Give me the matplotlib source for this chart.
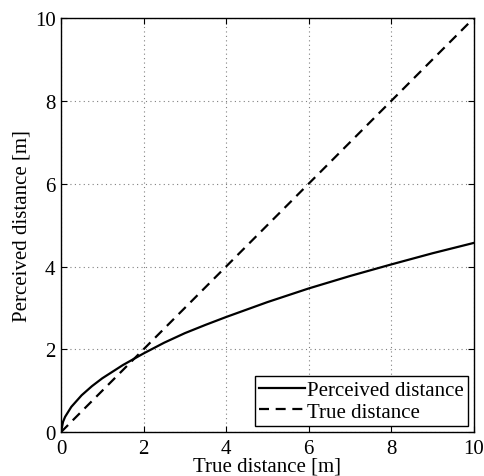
import numpy as np
import matplotlib
matplotlib.use('Agg')
from matplotlib import pyplot as plt

#### data
true_dist = [0, 0.05, 0.1, 0.25, 0.5, 0.75, 1, 1.5, 2, 2.5, 3, 3.5, 4, 5, 6, 7, 8, 9, 10]
perceived = [0, 0.25, 0.37, 0.61, 0.89, 1.11, 1.30, 1.62, 1.90, 2.16, 2.39, 2.59, 2.78,
             3.14, 3.47, 3.77, 4.05, 4.32, 4.57]
line_x = [0, 10]
line_y = [0, 10]
ticks = [0, 2, 4, 6, 8, 10]

plt.rcParams['font.family'] = 'Liberation Serif'
plt.rcParams['font.size'] = 15

fig = plt.figure(figsize=(4.84, 4.77), dpi=100)
ax = fig.add_axes([0.126, 0.092, 0.853, 0.868])

ax.plot(true_dist, perceived, c='black', lw=1.6, label='Perceived distance')
ax.plot(line_x, line_y, c='black', lw=1.6, ls=(0, (4.5, 3)), label='True distance')

ax.set_xlim(0, 10)
ax.set_ylim(0, 10)
ax.set_xticks(ticks)
ax.set_yticks(ticks)
ax.grid(True, ls=(0, (1, 3)), c='#808080', lw=0.8)
ax.tick_params(direction='in', top=True, right=True, length=4, labelsize=15)
ax.tick_params(axis='x', pad=5)
ax.tick_params(axis='y', pad=4)
for s in ax.spines.values():
    s.set_linewidth(1.0)

ax.set_xlabel('True distance [m]', labelpad=-1, fontsize=15)
ax.set_ylabel('Perceived distance [m]', labelpad=2, fontsize=15)

leg = ax.legend(loc='lower right', fancybox=False, edgecolor='black', framealpha=1,
                fontsize=15, handlelength=2.2, handletextpad=0.1, borderpad=0.2,
                labelspacing=0.1, borderaxespad=0.3)
leg.get_frame().set_linewidth(1.0)

fig.savefig('out.png', dpi=100)
